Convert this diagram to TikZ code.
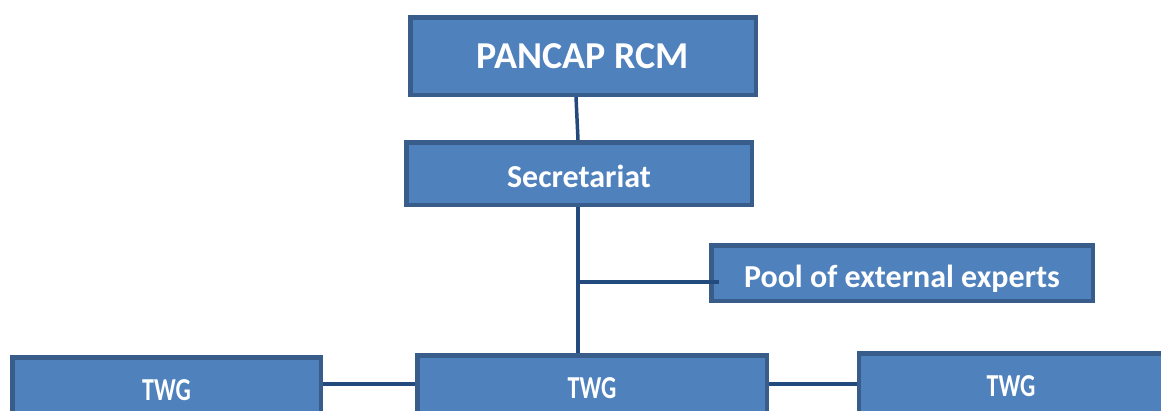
\documentclass[tikz,border=0pt]{standalone}
\usepackage{fontspec}
\setmainfont{Carlito}
\usepackage{graphicx}
\definecolor{boxfill}{RGB}{79,129,189}
\definecolor{boxline}{RGB}{56,93,138}
\definecolor{linkline}{RGB}{35,74,125}
\begin{document}
\begin{tikzpicture}[x=1pt, y=-1pt,
    unit/.style={draw=boxline, line width=4.5pt, fill=boxfill, text=white, font=\bfseries\fontsize{32}{36}\selectfont, inner sep=0pt},
    link/.style={draw=linkline, line width=3.5pt}]
    \useasboundingbox (0,0) rectangle (1161,410);
    \clip (0,0) rectangle (1161,410);
    % Boxes
    \node[unit, minimum width=345.5pt, minimum height=77.5pt, font=\bfseries\fontsize{38}{42}\selectfont] (rcm) at (583,56) {PANCAP RCM};
    \node[unit, minimum width=345.5pt, minimum height=62.5pt, text height=27pt, text depth=0pt] (secr) at (579,173.5) {Secretariat};
    \node[unit, minimum width=381.5pt, minimum height=55.5pt, text height=34pt, text depth=6pt] (pool) at (902,273) {Pool of external experts};
    \node[unit, minimum width=308.5pt, minimum height=65.5pt] (twgl) at (166.5,390) {\scalebox{0.75}[1]{TWG}};
    \node[unit, minimum width=349.5pt, minimum height=65.5pt] (twgc) at (592,388) {\scalebox{0.75}[1]{TWG}};
    \node[unit, minimum width=304pt, minimum height=65.5pt] (twgr) at (1011,386) {\scalebox{0.75}[1]{TWG}};
    % Links
    \draw[link] ([xshift=-7pt]rcm.south) -- ([xshift=-1pt]secr.north);
    \draw[link] ([xshift=-1pt]secr.south) -- ([xshift=-14pt]twgc.north);
    \coordinate (join) at (578,282);
    \draw[link] (join) -- ([xshift=10pt]join -| pool.west);
    \draw[link] ([yshift=6pt]twgl.east) -- ([yshift=6pt]twgl.east -| twgc.west);
    \draw[link] ([yshift=4pt]twgc.east) -- ([yshift=4pt]twgc.east -| twgr.west);
\end{tikzpicture}
\end{document}
